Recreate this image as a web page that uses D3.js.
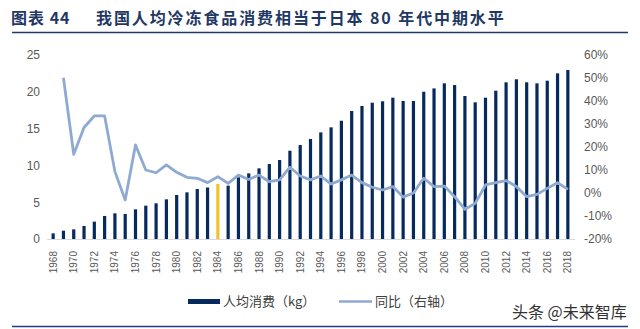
<!DOCTYPE html>
<html>
<head>
<meta charset="utf-8">
<script src="https://cdn.jsdelivr.net/npm/d3@7/dist/d3.min.js"></script>
<style>
  body { margin: 0; background: #fff; }
  svg { display: block; }
</style>
</head>
<body>
<svg id="chart" width="640" height="329"></svg>
<script>
// years and series
const years = d3.range(1968, 2019);
const perCapita = [
  0.77, 1.13, 1.31, 1.77, 2.36, 3.13, 3.49, 3.40, 4.03, 4.53,
  4.85, 5.39, 5.98, 6.34, 6.79, 7.00, 7.47, 7.25, 8.38, 8.92,
  9.60, 10.19, 10.73, 12.00, 12.77, 13.59, 14.49, 15.17, 16.07, 17.39,
  18.07, 18.52, 18.71, 19.20, 18.75, 18.75, 20.01, 20.46, 21.15, 20.92,
  19.43, 18.57, 19.20, 20.15, 21.29, 21.70, 21.29, 21.15, 21.51, 22.51,
  22.96
];
// yoy growth, first year has none
const growth = [
  null, 50.1, 16.8, 28.5, 33.5, 33.5, 9.3, -3.0, 20.9, 10.0,
  8.8, 12.2, 9.0, 6.8, 6.4, 4.5, 7.1, 4.2, 7.8, 5.9,
  7.8, 4.9, 5.7, 11.2, 7.4, 5.7, 7.4, 3.9, 5.7, 7.8,
  4.5, 2.5, 1.3, 2.8, -1.8, 0.0, 6.4, 2.8, 3.0, -1.6,
  -7.1, -4.5, 3.5, 4.5, 5.4, 2.8, -1.6, -0.6, 2.0, 4.5,
  1.6
];
const highlightYear = 1984;
const leftTicks = [0, 5, 10, 15, 20, 25];
const rightTicks = [-20, -10, 0, 10, 20, 30, 40, 50, 60];

const figNo = "图表 44";
const title = "我国人均冷冻食品消费相当于日本 80 年代中期水平";
const legendItems = ["人均消费（kg）", "同比（右轴）"];
const credit = "头条 @未来智库";

const navy = "#072a5e", gold = "#f2c12e", lineBlue = "#8eaad2", grey = "#595959";
const cjk = "'Noto Sans CJK SC', sans-serif";

const svg = d3.select("#chart");

// title and rules
const titleG = svg.append("g")
  .attr("fill", "#1f3864")
  .style("font-family", cjk)
  .style("font-weight", "bold")
  .style("font-size", "16px");
titleG.append("text").attr("x", 11).attr("y", 24)
  .style("letter-spacing", "1px").text(figNo);
titleG.append("text").attr("x", 96).attr("y", 24)
  .style("letter-spacing", "1.9px").text(title);

svg.append("line")
  .attr("x1", 12).attr("x2", 628).attr("y1", 32.5).attr("y2", 32.5)
  .attr("stroke", "#1f3864").attr("stroke-width", 1.6);

svg.append("line")
  .attr("x1", 12).attr("x2", 628).attr("y1", 326.5).attr("y2", 326.5)
  .attr("stroke", "#1f3c8a").attr("stroke-width", 1.6);

// scales
const x = d3.scaleBand().domain(years).range([48, 573]);
const yL = d3.scaleLinear().domain([0, 25]).range([239, 55]);
const yR = d3.scaleLinear().domain([-20, 60]).range([239, 55]);
const barW = 3.2;

// axes
const axisFont = "'Liberation Sans', Arial, sans-serif";

const leftAxis = svg.append("g")
  .attr("transform", "translate(40,0)")
  .call(d3.axisLeft(yL).tickValues(leftTicks).tickSize(0).tickPadding(0));
leftAxis.select(".domain").remove();
leftAxis.selectAll("text")
  .attr("fill", grey).style("font-family", axisFont).style("font-size", "12px");

const rightAxis = svg.append("g")
  .attr("transform", "translate(584,0)")
  .call(d3.axisRight(yR).tickValues(rightTicks).tickSize(0).tickPadding(0)
    .tickFormat(d => d + "%"));
rightAxis.select(".domain").remove();
rightAxis.selectAll("text")
  .attr("fill", grey).style("font-family", axisFont).style("font-size", "12px");

const bottomAxis = svg.append("g")
  .attr("transform", "translate(0,239)")
  .call(d3.axisBottom(x).tickValues(years.filter(y => y % 2 === 0)).tickSize(0).tickPadding(0));
bottomAxis.select(".domain").remove();
bottomAxis.selectAll("text")
  .attr("fill", grey).style("font-family", axisFont).style("font-size", "10px")
  .attr("transform", "rotate(-90)")
  .attr("text-anchor", "end")
  .attr("x", -12).attr("y", 0).attr("dy", "0.35em");

// bars
svg.append("g").selectAll("rect")
  .data(years)
  .enter().append("rect")
  .attr("x", (d) => x(d) + x.bandwidth() / 2 - barW / 2)
  .attr("width", barW)
  .attr("y", (d, i) => yL(perCapita[i]))
  .attr("height", (d, i) => yL(0) - yL(perCapita[i]))
  .attr("fill", (d) => d === highlightYear ? gold : navy);

// baseline
svg.append("line")
  .attr("x1", 47).attr("x2", 575).attr("y1", 239.5).attr("y2", 239.5)
  .attr("stroke", "#d9d9d9").attr("stroke-width", 1);

// growth line
const line = d3.line()
  .defined(d => d.v !== null)
  .x(d => x(d.year) + x.bandwidth() / 2)
  .y(d => yR(d.v));

svg.append("path")
  .datum(years.map((y, i) => ({ year: y, v: growth[i] })))
  .attr("d", line)
  .attr("fill", "none")
  .attr("stroke", lineBlue)
  .attr("stroke-width", 2.8)
  .attr("stroke-linejoin", "round");

// legend
const legend = svg.append("g")
  .style("font-family", cjk)
  .style("font-size", "13px")
  .attr("fill", "#404040");

legend.append("rect")
  .attr("x", 188).attr("y", 299).attr("width", 32).attr("height", 5)
  .attr("fill", navy);
legend.append("text").attr("x", 223).attr("y", 306).text(legendItems[0]);

legend.append("line")
  .attr("x1", 339).attr("x2", 372).attr("y1", 301.5).attr("y2", 301.5)
  .attr("stroke", lineBlue).attr("stroke-width", 2.5);
legend.append("text").attr("x", 375).attr("y", 306).text(legendItems[1]);

// source credit
svg.append("text")
  .attr("x", 512).attr("y", 318)
  .attr("fill", "#333")
  .style("font-family", cjk)
  .style("font-size", "16px")
  .text(credit);
</script>
</body>
</html>
